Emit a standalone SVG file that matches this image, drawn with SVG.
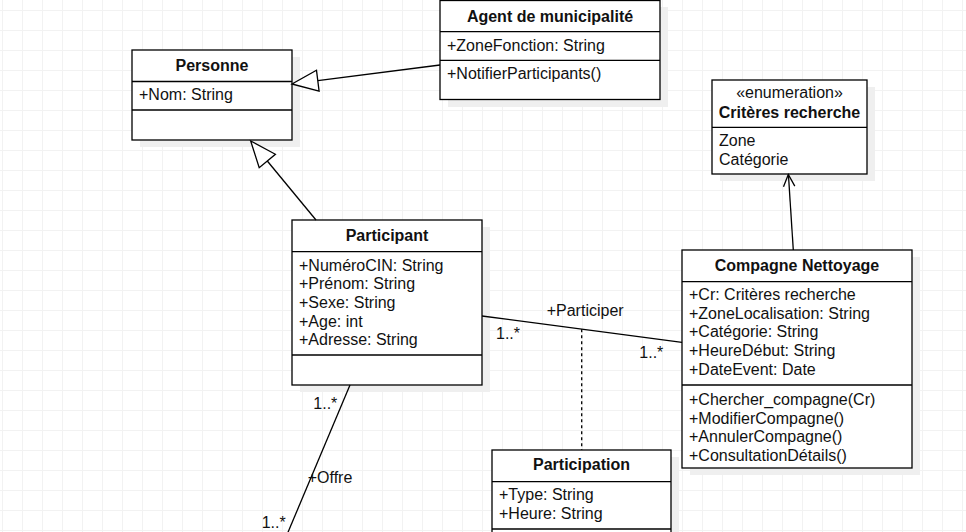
<svg xmlns="http://www.w3.org/2000/svg" width="966" height="532" viewBox="0 0 966 532">
<style>
.box{fill:#fff;stroke:#000;stroke-width:1.3}
.sh{fill:#efefef}
.dv{stroke:#000;stroke-width:1.3}
.t{font-family:"Liberation Sans",Arial,sans-serif;font-size:16px;fill:#111}
.b{font-weight:bold;text-anchor:middle}
.m{text-anchor:middle}
.edge{fill:none;stroke:#000;stroke-width:1.3}
.tri{fill:#fff;stroke:#000;stroke-width:1.3}
</style>
<defs>
<pattern id="grid" width="20" height="20" patternUnits="userSpaceOnUse" x="2" y="10">
<path d="M0 0.5H20M0.5 0V20" stroke="#f2f2f2" stroke-width="1" fill="none"/>
</pattern>
</defs>
<rect width="966" height="532" fill="#fff"/>
<rect width="966" height="532" fill="url(#grid)"/>

<g id="personne">
<rect class="sh" x="140" y="57" width="160" height="90"/>
<rect class="box" x="132" y="50" width="160" height="90"/>
<line class="dv" x1="132" y1="81.5" x2="292" y2="81.5"/>
<line class="dv" x1="132" y1="110" x2="292" y2="110"/>
<text class="t b" x="212" y="71">Personne</text>
<text class="t" x="139" y="100">+Nom: String</text>
</g>

<g id="agent">
<rect class="sh" x="448" y="7" width="220" height="100"/>
<rect class="box" x="440" y="0.5" width="220" height="99"/>
<line class="dv" x1="440" y1="31.7" x2="660" y2="31.7"/>
<line class="dv" x1="440" y1="60.3" x2="660" y2="60.3"/>
<text class="t b" x="550" y="21.5">Agent de municipalité</text>
<text class="t" x="447" y="50.5">+ZoneFonction: String</text>
<text class="t" x="447" y="79">+NotifierParticipants()</text>
</g>

<g id="criteres">
<rect class="sh" x="720" y="87" width="155" height="94"/>
<rect class="box" x="712" y="80" width="155" height="94"/>
<line class="dv" x1="712" y1="127.3" x2="867" y2="127.3"/>
<text class="t m" x="789.5" y="98.3">«enumeration»</text>
<text class="t b" x="789.5" y="118.3">Critères recherche</text>
<text class="t" x="719" y="145.5">Zone</text>
<text class="t" x="719" y="164.5">Catégorie</text>
</g>

<g id="participant">
<rect class="sh" x="300" y="227" width="190" height="165"/>
<rect class="box" x="292" y="220" width="190" height="165"/>
<line class="dv" x1="292" y1="251.7" x2="482" y2="251.7"/>
<line class="dv" x1="292" y1="355" x2="482" y2="355"/>
<text class="t b" x="387" y="240.7">Participant</text>
<text class="t" x="299" y="270.7">+NuméroCIN: String</text>
<text class="t" x="299" y="289.3">+Prénom: String</text>
<text class="t" x="299" y="308">+Sexe: String</text>
<text class="t" x="299" y="326.7">+Age: int</text>
<text class="t" x="299" y="345.3">+Adresse: String</text>
</g>

<g id="compagne">
<rect class="sh" x="690" y="257" width="230" height="218"/>
<rect class="box" x="682" y="250" width="230" height="218"/>
<line class="dv" x1="682" y1="281.7" x2="912" y2="281.7"/>
<line class="dv" x1="682" y1="385" x2="912" y2="385"/>
<text class="t b" x="797" y="270.7">Compagne Nettoyage</text>
<text class="t" x="689" y="300">+Cr: Critères recherche</text>
<text class="t" x="689" y="318.7">+ZoneLocalisation: String</text>
<text class="t" x="689" y="337.3">+Catégorie: String</text>
<text class="t" x="689" y="356">+HeureDébut: String</text>
<text class="t" x="689" y="374.7">+DateEvent: Date</text>
<text class="t" x="689" y="405">+Chercher_compagne(Cr)</text>
<text class="t" x="689" y="423.7">+ModifierCompagne()</text>
<text class="t" x="689" y="442.3">+AnnulerCompagne()</text>
<text class="t" x="689" y="461">+ConsultationDétails()</text>
</g>

<g id="participation">
<rect class="sh" x="500" y="457" width="179" height="100"/>
<rect class="box" x="492" y="450" width="179" height="100"/>
<line class="dv" x1="492" y1="481.7" x2="671" y2="481.7"/>
<line class="dv" x1="492" y1="529" x2="671" y2="529"/>
<text class="t b" x="581.5" y="470">Participation</text>
<text class="t" x="499" y="500">+Type: String</text>
<text class="t" x="499" y="519">+Heure: String</text>
</g>

<g id="edges">
<line class="edge" x1="317.8" y1="80.7" x2="440" y2="65"/>
<polygon class="tri" points="292,84 319.1,91.1 316.5,70.3"/>
<line class="edge" x1="267.3" y1="161" x2="316" y2="220"/>
<polygon class="tri" points="250.7,141 275.4,154.3 259.2,167.7"/>
<line class="edge" x1="793.3" y1="250" x2="788.4" y2="174.5"/>
<polyline class="edge" points="783.5,186.8 788.3,174.5 794.8,186.1"/>
<line class="edge" x1="482" y1="316" x2="682" y2="342.3"/>
<line class="edge" x1="581.7" y1="329.3" x2="581.7" y2="450" stroke-dasharray="3 3"/>
<line class="edge" x1="350" y1="385" x2="286" y2="537"/>
<text class="t" x="546.7" y="315.7">+Participer</text>
<text class="t" x="496" y="339.3">1..*</text>
<text class="t" x="639.3" y="358.3">1..*</text>
<text class="t" x="313.3" y="409.3">1..*</text>
<text class="t" x="307.7" y="483.3">+Offre</text>
<text class="t" x="261.7" y="528">1..*</text>
</g>
</svg>
